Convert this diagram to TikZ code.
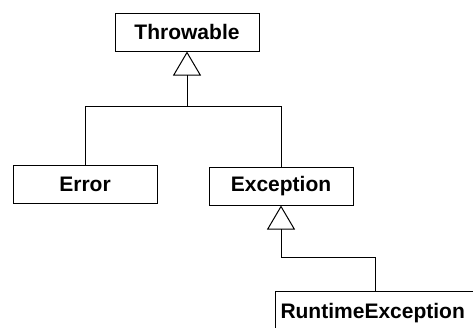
\documentclass[tikz,border=0pt]{standalone}
\usepackage{fontspec}
\setmainfont{Liberation Sans}
\usetikzlibrary{arrows.meta}
\begin{document}
\begin{tikzpicture}[x=1pt,y=1pt,
  cls/.style={draw=black, line width=1pt, minimum width=144pt, minimum height=38pt,
    inner sep=0pt, font=\fontsize{21}{24}\selectfont\bfseries},
  conn/.style={draw=black, line width=1pt},
  inh/.style={conn, -{Triangle[open, length=24pt, width=28pt, line width=1pt]}}]
\useasboundingbox (0,0) rectangle (473,-327);
\clip (0,0) rectangle (473,-327);
\node[cls] (thr) at (187,-32) {Throwable};
\node[cls] (err) at (85,-184) {Error};
\node[cls] (exc) at (281,-186) {Exception};
\node[cls, anchor=north west, text width=210pt, minimum width=0pt, inner xsep=5pt, align=left, text depth=0pt] (rte) at (275,-291) {RuntimeException};
\coordinate (j1) at (187,-106);
\coordinate (j2) at (281,-257);
\draw[conn] (err.north) |- (j1);
\draw[conn] (exc.north) |- (j1);
\draw[inh] (j1) -- (thr.south);
\draw[conn] (rte.north -| 375,0) |- (j2);
\draw[inh] (j2) -- (exc.south);
\end{tikzpicture}
\end{document}
